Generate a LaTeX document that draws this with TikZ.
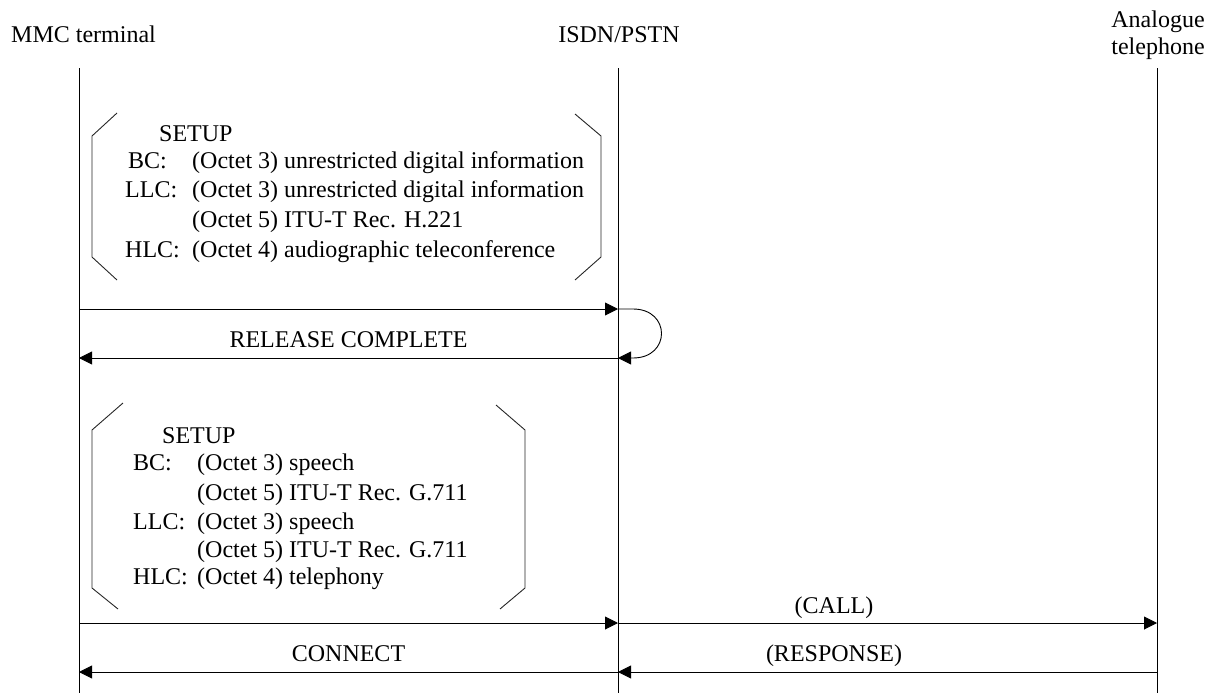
\documentclass[tikz,border=0pt]{standalone}
\usepackage{fontspec}
\setmainfont{Liberation Serif}
\usetikzlibrary{arrows.meta}
\begin{document}
\begin{tikzpicture}[x=1pt,y=-1pt,
  life/.style={line width=0.9pt},
  msg/.style={line width=0.9pt,-{Triangle[length=13pt,width=13pt]}},
  brk/.style={line width=0.9pt,black!85},
  txt/.style={inner sep=0pt,font=\fontsize{24}{28}\selectfont},
  tl/.style={txt,anchor=base west},
  tc/.style={txt,anchor=base}]
\useasboundingbox (0,0) rectangle (1214,693);
% headers
\node[tl] (mmc) at (11,43) {MMC terminal};
\node[tc] (isdn) at (619,43) {ISDN/PSTN};
\node[tc] (ana1) at (1158,28) {Analogue};
\node[tc] (ana2) at (1158,55) {telephone};
% lifelines
\coordinate (mT) at (79,68);   \coordinate (mB) at (79,693);
\coordinate (iT) at (618,68);  \coordinate (iB) at (618,693);
\coordinate (aT) at (1157,68); \coordinate (aB) at (1157,693);
\draw[life] (mT) -- (mB);
\draw[life] (iT) -- (iB);
\draw[life] (aT) -- (aB);
% first SETUP box
\draw[brk] (117,113) -- (92,136) -- (92,257) -- (117,280);
\draw[brk] (575,114) -- (601,136) -- (601,257) -- (575,280);
\node[tl] (s1) at (159,141) {SETUP};
\node[tl] (s1bc) at (128,168) {BC:};
\node[tl] (s1bcv) at (192,168) {(Octet 3) unrestricted digital information};
\node[tl] (s1llc) at (125,197) {LLC:};
\node[tl] (s1llcv) at (192,197) {(Octet 3) unrestricted digital information};
\node[tl] (s1llcv2) at (192,227) {(Octet 5) ITU-T Rec. H.221};
\node[tl] (s1hlc) at (125,257) {HLC:};
\node[tl] (s1hlcv) at (192,257) {(Octet 4) audiographic teleconference};
% messages 1
\coordinate (m1) at (79,309);  \coordinate (i1) at (618,309);
\coordinate (m2) at (79,358);  \coordinate (i2) at (618,358);
\draw[msg] (m1) -- (i1);
\draw[msg] (i1) -- ++(15,0) .. controls +(38,0) and +(38,0) .. ([xshift=15pt]i2) -- (i2);
\draw[msg] (i2) -- (m2);
\node[tc] (rel) at (348.5,347) {RELEASE COMPLETE};
% second SETUP box
\draw[brk] (123,403) -- (92,430) -- (92,588) -- (118,609);
\draw[brk] (496,405) -- (525,430) -- (525,588) -- (500,609);
\node[tl] (s2) at (162,443) {SETUP};
\node[tl] (s2bc) at (133,470) {BC:};
\node[tl] (s2bcv) at (197,470) {(Octet 3) speech};
\node[tl] (s2bcv2) at (197,500) {(Octet 5) ITU-T Rec. G.711};
\node[tl] (s2llc) at (133,529) {LLC:};
\node[tl] (s2llcv) at (197,529) {(Octet 3) speech};
\node[tl] (s2llcv2) at (197,557) {(Octet 5) ITU-T Rec. G.711};
\node[tl] (s2hlc) at (133,584) {HLC:};
\node[tl] (s2hlcv) at (197,584) {(Octet 4) telephony};
% messages 2
\coordinate (m3) at (79,623);  \coordinate (i3) at (618,623); \coordinate (a3) at (1157,623);
\coordinate (m4) at (79,672);  \coordinate (i4) at (618,672); \coordinate (a4) at (1157,672);
\draw[msg] (m3) -- (i3);
\draw[msg] (i3) -- (a3);
\draw[msg] (i4) -- (m4);
\draw[msg] (a4) -- (i4);
\node[tc] (call) at (834,613) {(CALL)};
\node[tc] (conn) at (348.5,661) {CONNECT};
\node[tc] (resp) at (834,661) {(RESPONSE)};
\end{tikzpicture}
\end{document}
